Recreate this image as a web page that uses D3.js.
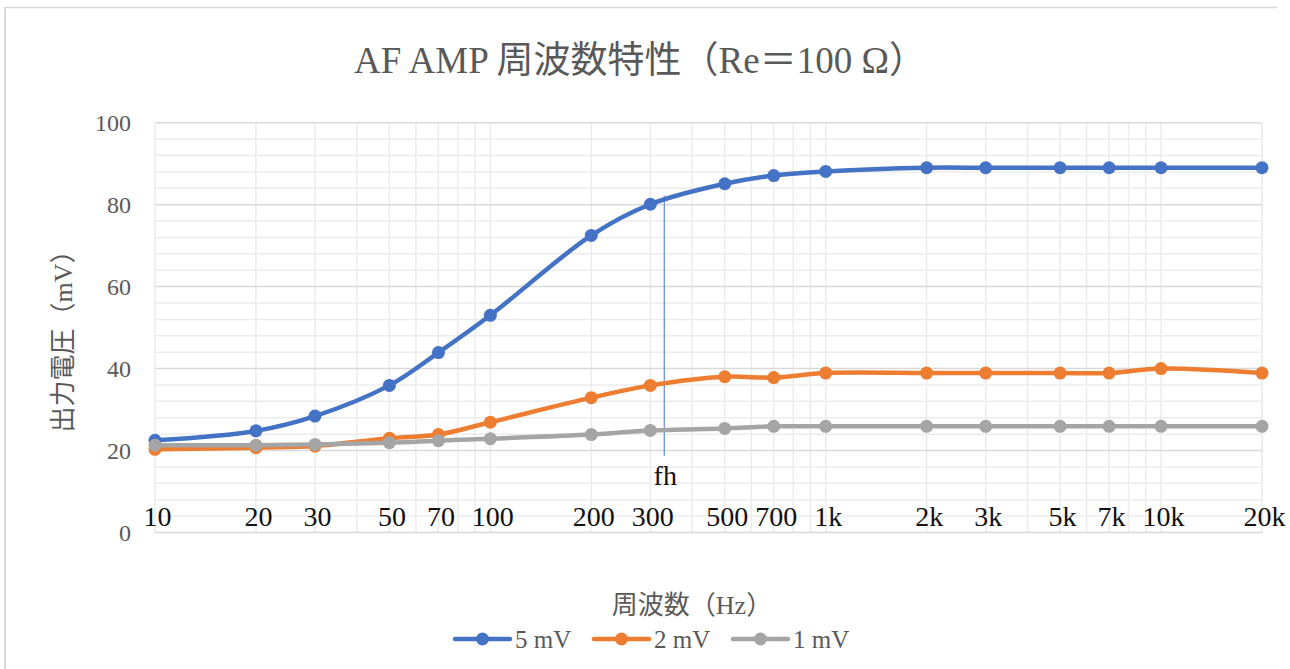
<!DOCTYPE html>
<html>
<head>
<meta charset="utf-8">
<script src="https://cdn.jsdelivr.net/npm/d3@7"></script>
<style>
  html, body { margin: 0; padding: 0; background: #fff; }
  svg { display: block; }
  text { font-family: "Liberation Serif", "Noto Sans CJK JP", serif; }
</style>
</head>
<body>
<svg id="chart" width="1290" height="669"></svg>
<script>
// ---- data ----
const frequencies = [10, 20, 30, 50, 70, 100, 200, 300, 500, 700, 1000, 2000, 3000, 5000, 7000, 10000, 20000];
const tickLabels = ["10", "20", "30", "50", "70", "100", "200", "300", "500", "700", "1k", "2k", "3k", "5k", "7k", "10k", "20k"];
const seriesNames = ["5 mV", "2 mV", "1 mV"];
const values5mV = [22.5, 24.8, 28.4, 35.9, 43.9, 53.0, 72.5, 80.1, 85.1, 87.1, 88.1, 89.0, 89.0, 89.0, 89.0, 89.0, 89.0];
const values2mV = [20.3, 20.7, 21.1, 23.0, 23.9, 26.9, 32.9, 35.9, 38.0, 37.8, 38.9, 38.9, 38.9, 38.9, 38.9, 40.0, 38.9];
const values1mV = [21.3, 21.3, 21.5, 21.9, 22.4, 22.9, 23.9, 24.9, 25.4, 25.9, 25.9, 25.9, 25.9, 25.9, 25.9, 25.9, 25.9];
const seriesColors = ["#4472C4", "#ED7D31", "#A5A5A5"];
const yTicks = [0, 20, 40, 60, 80, 100];
const fhFrequency = 330;
const fhRange = [18.7, 82.2];

const svg = d3.select("#chart");

// frame (top and left border)
svg.append("line").attr("x1", 5).attr("x2", 1277).attr("y1", 7.5).attr("y2", 7.5)
  .attr("stroke", "#d9d9d9").attr("stroke-width", 1.5);
svg.append("line").attr("x1", 5).attr("x2", 5).attr("y1", 7).attr("y2", 669)
  .attr("stroke", "#d9d9d9").attr("stroke-width", 2);

const x = d3.scaleLog().domain([10, 20000]).range([155, 1262]);
const y = d3.scaleLinear().domain([0, 100]).range([532.5, 122.7]);

// minor vertical gridlines (log)
const vGrid = [];
for (let dec = 10; dec < 20000; dec *= 10) {
  for (let m = 1; m <= 9; m++) { const v = dec * m; if (v <= 20000) vGrid.push(v); }
}
vGrid.push(20000);
svg.append("g").selectAll("line").data(vGrid).join("line")
  .attr("x1", d => x(d)).attr("x2", d => x(d))
  .attr("y1", y(100)).attr("y2", y(0))
  .attr("stroke", "#ececec").attr("stroke-width", 1.5);

// horizontal gridlines: minor every 4, major every 20
const hMinor = d3.range(0, 101, 4).filter(v => v % 20 !== 0);
svg.append("g").selectAll("line").data(hMinor).join("line")
  .attr("x1", x(10)).attr("x2", x(20000))
  .attr("y1", d => y(d)).attr("y2", d => y(d))
  .attr("stroke", "#ececec").attr("stroke-width", 1.5);
svg.append("g").selectAll("line").data(yTicks).join("line")
  .attr("x1", x(10)).attr("x2", x(20000))
  .attr("y1", d => y(d)).attr("y2", d => y(d))
  .attr("stroke", "#d9d9d9").attr("stroke-width", 1.5);

// y axis labels
const yAxis = d3.axisLeft(y).tickValues(yTicks).tickSize(0).tickPadding(24);
const gy = svg.append("g").attr("transform", `translate(${x(10)},0)`).call(yAxis);
gy.select(".domain").remove();
gy.selectAll("text").attr("font-size", 24).attr("fill", "#595959")
  .attr("font-family", "Liberation Serif, serif");

// x tick labels (above axis line)
const xAxis = d3.axisBottom(x).tickValues(frequencies).tickFormat((d, i) => tickLabels[i]).tickSize(0).tickPadding(0);
const gx = svg.append("g").attr("transform", `translate(2,${y(0) - 30})`).call(xAxis);
gx.select(".domain").remove();
gx.selectAll("text").attr("font-size", 28).attr("fill", "#111").attr("dy", "0")
  .attr("y", 23).attr("font-family", "Liberation Serif, serif");

// fh marker line
svg.append("line")
  .attr("x1", x(fhFrequency)).attr("x2", x(fhFrequency))
  .attr("y1", y(fhRange[1])).attr("y2", y(fhRange[0]))
  .attr("stroke", "#4472C4").attr("stroke-width", 1);
svg.append("text").attr("x", x(fhFrequency) + 1).attr("y", 485)
  .attr("text-anchor", "middle").attr("font-size", 28).attr("fill", "#111").text("fh");

// series
const allValues = [values5mV, values2mV, values1mV];
const line = d3.line().x(d => x(d[0])).y(d => y(d[1])).curve(d3.curveCatmullRom.alpha(0.5));
allValues.forEach((vals, i) => {
  const pts = frequencies.map((f, j) => [f, vals[j]]);
  const g = svg.append("g");
  g.append("path").datum(pts).attr("d", line)
    .attr("fill", "none").attr("stroke", seriesColors[i]).attr("stroke-width", 4.5)
    .attr("stroke-linejoin", "round").attr("stroke-linecap", "round");
  g.selectAll("circle").data(pts).join("circle")
    .attr("cx", d => x(d[0])).attr("cy", d => y(d[1])).attr("r", 6.5)
    .attr("fill", seriesColors[i]);
});

// title
svg.append("text").attr("x", 640).attr("y", 73).attr("text-anchor", "middle")
  .attr("font-size", 37).attr("fill", "#595959").text("AF AMP 周波数特性（Re＝100 Ω）");

// axis titles
svg.append("text").attr("x", 692).attr("y", 614).attr("text-anchor", "middle")
  .attr("font-size", 26).attr("fill", "#595959").text("周波数（Hz）");
svg.append("text").attr("transform", "translate(72,335) rotate(-90)").attr("text-anchor", "middle")
  .attr("font-size", 26).attr("fill", "#595959").text("出力電圧（mV）");

// legend
const legendX = [455, 594, 733];
seriesNames.forEach((name, i) => {
  const g = svg.append("g").attr("transform", `translate(${legendX[i]},639)`);
  g.append("line").attr("x1", 0).attr("x2", 55).attr("y1", 0).attr("y2", 0)
    .attr("stroke", seriesColors[i]).attr("stroke-width", 4.5).attr("stroke-linecap", "round");
  g.append("circle").attr("cx", 27.5).attr("cy", 0).attr("r", 6.5).attr("fill", seriesColors[i]);
  g.append("text").attr("x", 60).attr("y", 9).attr("font-size", 25).attr("fill", "#595959").text(name);
});
</script>
</body>
</html>
